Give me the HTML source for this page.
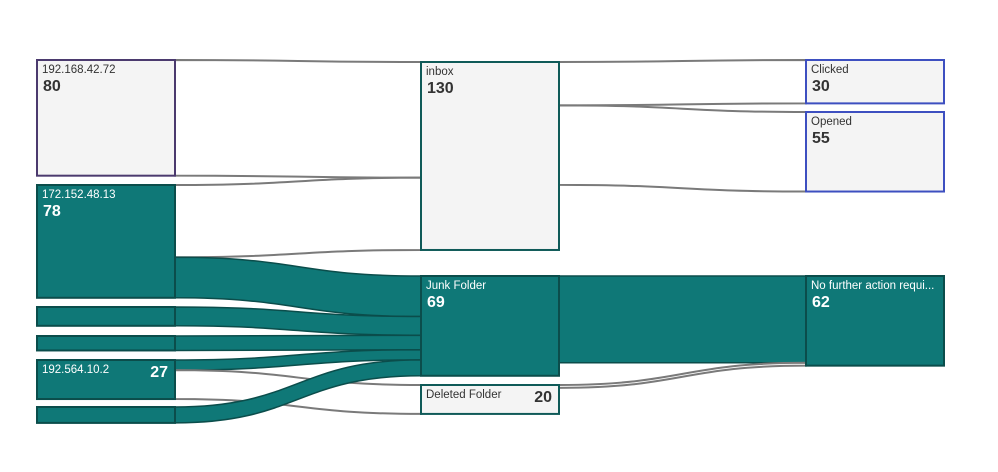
<!DOCTYPE html>
<html><head><meta charset="utf-8"><style>
html,body{margin:0;padding:0;background:#fff;width:998px;height:472px;overflow:hidden}
svg{display:block;font-family:"Segoe UI","Liberation Sans",sans-serif}
</style></head><body>
<svg id="chart" width="998" height="472"></svg>
<script>
const nodeNames = ["192.168.42.72","172.152.48.13","source-a","source-b","192.564.10.2","source-c","inbox","Junk Folder","Deleted Folder","Clicked","Opened","No further action requi..."];
const nodeLabelShown = [true,true,false,false,true,false,true,true,true,true,true,true];
const linkSources = [0,1,1,2,3,4,4,5,6,6,7,8];
const linkTargets = [6,6,7,7,7,7,8,7,9,10,11,11];
const linkValues  = [80,50,28,13,10,7,20,11,30,55,60,2];

const k = 1.446;
const colX = [37,421,806], nodeW = 138;
const nodeCol = [0,0,0,0,0,0,1,1,1,2,2,2];
const nodeTop = [60,185,307,336,360,407,62,276,385,60,112,276];
const teal = [false,true,true,true,true,true,false,true,false,false,false,true];
const strokeC = ["#4b3a6e","#0b4d4b","#0b4d4b","#0b4d4b","#0b4d4b","#0b4d4b","#0f5a58","#0b4d4b","#0f5a58","#3d4fc0","#3d4fc0","#0b4d4b"];
const NS="http://www.w3.org/2000/svg";
const svg=document.getElementById('chart');
function el(t,a){const e=document.createElementNS(NS,t);for(const x in a)e.setAttribute(x,a[x]);return e;}
const inSum=nodeNames.map(()=>0), outSum=nodeNames.map(()=>0);
linkValues.forEach((v,i)=>{outSum[linkSources[i]]+=v;inSum[linkTargets[i]]+=v;});
const nodeVal=nodeNames.map((n,i)=>Math.max(inSum[i],outSum[i]));
const h=i=>nodeVal[i]*k;
const outOff=nodeNames.map(()=>0), inOff=nodeNames.map(()=>0);
const gLinks=el('g',{});


svg.appendChild(gLinks);
linkValues.forEach((v,i)=>{
  const s=linkSources[i],t=linkTargets[i],w=v*k;
  const x0=colX[nodeCol[s]]+nodeW, x1=colX[nodeCol[t]];
  const y0=nodeTop[s]+outOff[s], y1=nodeTop[t]+inOff[t];
  outOff[s]+=w; inOff[t]+=w;
  const xm=(x0+x1)/2;
  const d=`M${x0},${y0}C${xm},${y0} ${xm},${y1} ${x1},${y1}L${x1},${y1+w}C${xm},${y1+w} ${xm},${y0+w} ${x0},${y0+w}Z`;
  const isT=teal[s]&&teal[t];
  const p=el('path',{d:d,fill:isT?'#0f7877':'#fff',stroke:isT?'#0b4d4b':'#7a7a7a','stroke-width':isT?1.5:2});
  
  
  gLinks.appendChild(p);
});
nodeNames.forEach((n,i)=>{
  const g=el('g',{});
  
  
  const x=colX[nodeCol[i]], y=nodeTop[i], H=h(i);
  g.appendChild(el('rect',{x:x,y:y,width:nodeW,height:H,fill:teal[i]?'#0f7877':'#f4f4f4',stroke:strokeC[i],'stroke-width':2}));
  if(nodeLabelShown[i]){
    const col=teal[i]?'#fff':'#333';
    const lab=el('text',{x:x+5,y:y+13,'font-size':11.5,fill:col});lab.textContent=n;
    
    
    g.appendChild(lab);
    let vx=x+6,vy=y+31,anchor='start';
    if(H<41){vx=x+nodeW-7;vy=y+17;anchor='end';}
    const val=el('text',{x:vx,y:vy,'font-size':16,'font-weight':'bold',fill:col,'text-anchor':anchor});val.textContent=nodeVal[i];
    
    
    g.appendChild(val);
  }
  svg.appendChild(g);
});
</script>
</body></html>
